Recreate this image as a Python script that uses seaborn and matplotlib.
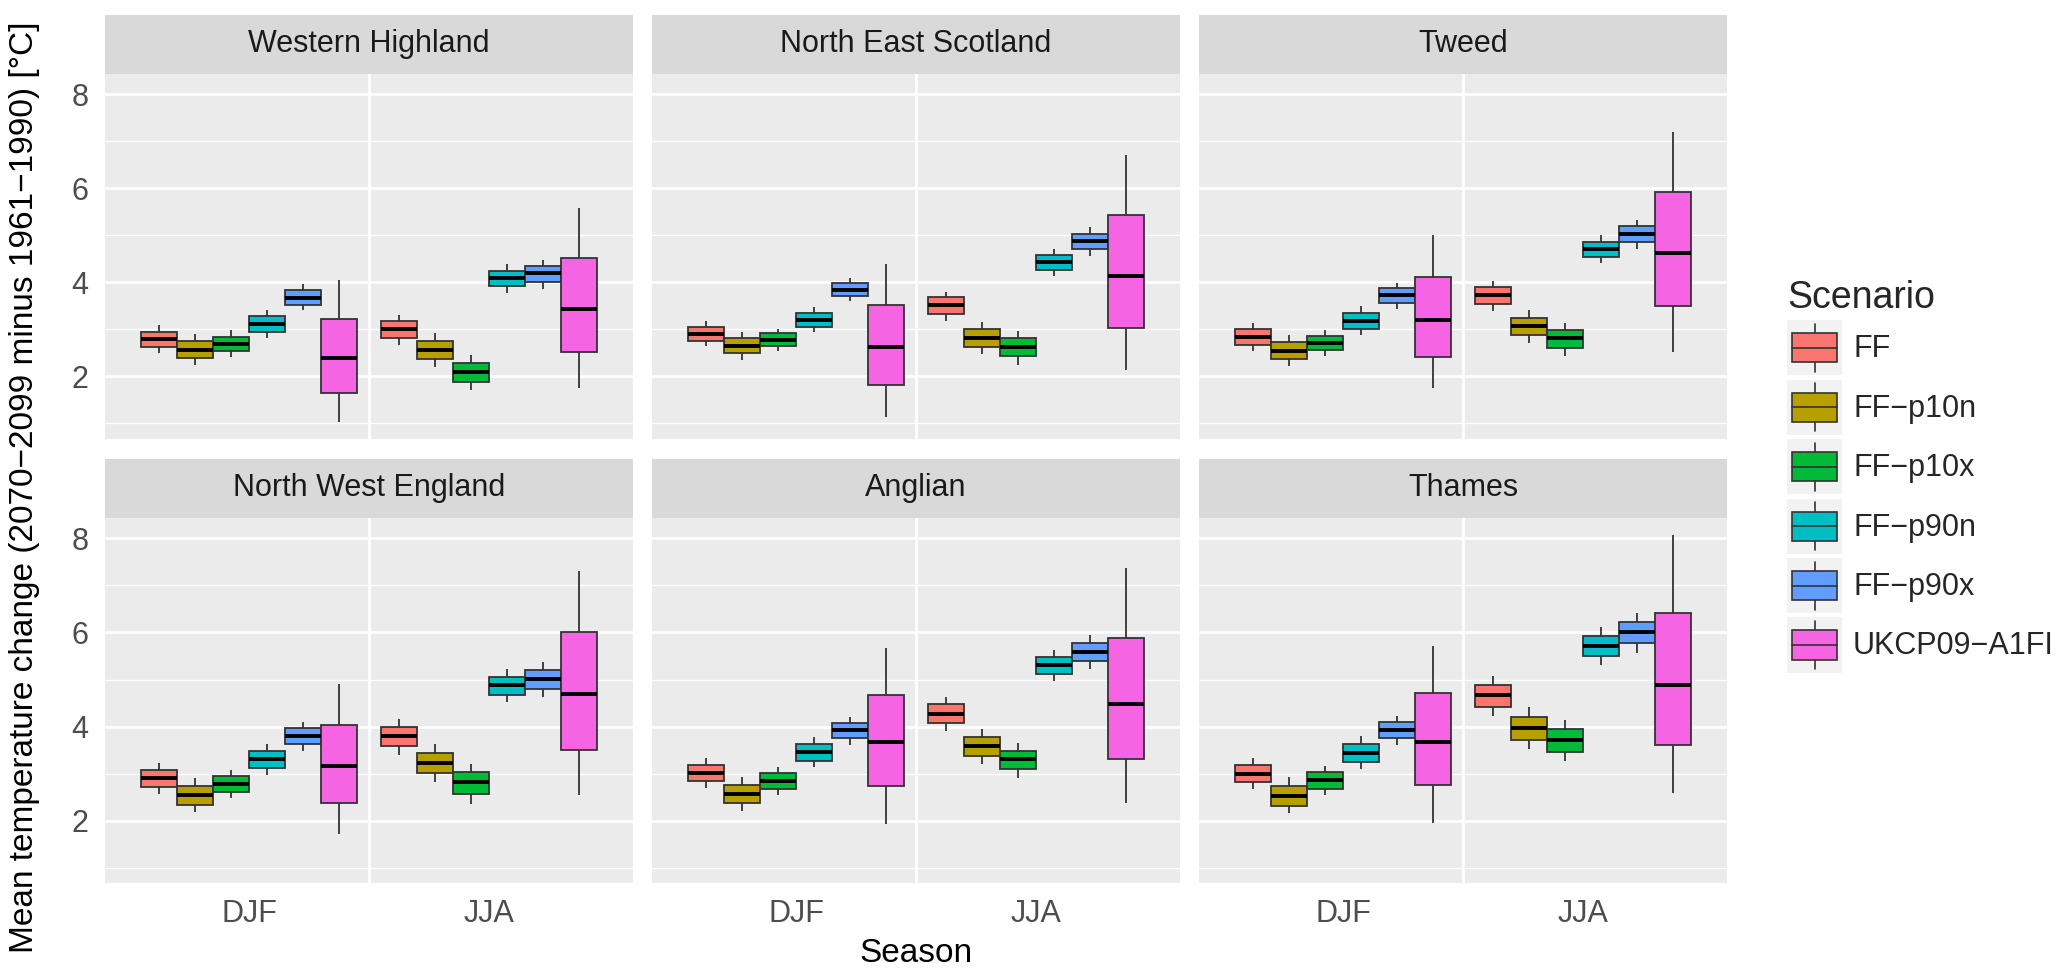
import numpy as np
import pandas as pd
import seaborn as sns
import matplotlib.pyplot as plt
from matplotlib.patches import Patch, Rectangle
from matplotlib.lines import Line2D
from matplotlib.legend_handler import HandlerBase
from matplotlib.ticker import MultipleLocator, FixedLocator

# categories
regions = ["Western Highland", "North East Scotland", "Tweed",
           "North West England", "Anglian", "Thames"]
seasons = ["DJF", "JJA"]
scenarios = ["FF", "FF\u2212p10n", "FF\u2212p10x", "FF\u2212p90n", "FF\u2212p90x", "UKCP09\u2212A1FI"]
colors = ["#F8766D", "#B79F00", "#00BA38", "#00BFC4", "#619CFF", "#F564E3"]

# box statistics, one row per region: DJF six scenarios, then JJA six scenarios
whisk_lo = [
    [2.49, 2.24, 2.42, 2.81, 3.41, 1.03,  2.67, 2.21, 1.72, 3.78, 3.87, 1.76],
    [2.64, 2.35, 2.54, 2.94, 3.60, 1.14,  3.17, 2.47, 2.25, 4.13, 4.56, 2.13],
    [2.54, 2.22, 2.44, 2.89, 3.44, 1.76,  3.39, 2.72, 2.43, 4.41, 4.71, 2.52],
    [2.57, 2.18, 2.47, 2.96, 3.49, 1.72,  3.39, 2.82, 2.35, 4.53, 4.62, 2.55],
    [2.69, 2.21, 2.55, 3.13, 3.61, 1.92,  3.90, 3.20, 2.91, 4.96, 5.23, 2.38],
    [2.67, 2.16, 2.54, 3.10, 3.60, 1.94,  4.22, 3.53, 3.26, 5.31, 5.57, 2.59],
]
q1 = [
    [2.62, 2.40, 2.54, 2.94, 3.52, 1.65,  2.82, 2.37, 1.89, 3.92, 4.01, 2.53],
    [2.75, 2.50, 2.64, 3.05, 3.71, 1.82,  3.33, 2.62, 2.43, 4.26, 4.72, 3.03],
    [2.67, 2.37, 2.56, 3.02, 3.57, 2.42,  3.55, 2.88, 2.61, 4.55, 4.86, 3.49],
    [2.71, 2.34, 2.61, 3.12, 3.63, 2.38,  3.59, 3.01, 2.57, 4.68, 4.80, 3.51],
    [2.84, 2.37, 2.68, 3.27, 3.76, 2.74,  4.07, 3.37, 3.09, 5.11, 5.40, 3.30],
    [2.82, 2.32, 2.68, 3.25, 3.75, 2.76,  4.42, 3.71, 3.46, 5.50, 5.77, 3.61],
]
median = [
    [2.79, 2.57, 2.69, 3.11, 3.67, 2.40,  3.00, 2.57, 2.10, 4.09, 4.20, 3.44],
    [2.91, 2.65, 2.78, 3.21, 3.84, 2.62,  3.51, 2.81, 2.63, 4.43, 4.88, 4.13],
    [2.84, 2.55, 2.71, 3.19, 3.73, 3.21,  3.73, 3.07, 2.81, 4.71, 5.02, 4.63],
    [2.90, 2.54, 2.78, 3.31, 3.80, 3.16,  3.79, 3.23, 2.81, 4.88, 5.01, 4.69],
    [3.02, 2.56, 2.85, 3.46, 3.92, 3.67,  4.27, 3.59, 3.30, 5.31, 5.59, 4.48],
    [3.00, 2.53, 2.86, 3.44, 3.92, 3.68,  4.66, 3.96, 3.71, 5.72, 6.00, 4.89],
]
q3 = [
    [2.95, 2.76, 2.84, 3.28, 3.83, 3.22,  3.17, 2.75, 2.29, 4.24, 4.35, 4.52],
    [3.05, 2.81, 2.92, 3.36, 3.98, 3.52,  3.68, 3.00, 2.81, 4.58, 5.04, 5.43],
    [3.00, 2.74, 2.86, 3.35, 3.88, 4.12,  3.90, 3.25, 2.98, 4.87, 5.19, 5.93],
    [3.07, 2.74, 2.94, 3.49, 3.96, 4.04,  3.99, 3.44, 3.03, 5.06, 5.21, 6.01],
    [3.18, 2.76, 3.01, 3.62, 4.08, 4.68,  4.47, 3.78, 3.49, 5.47, 5.78, 5.88],
    [3.18, 2.74, 3.03, 3.63, 4.09, 4.71,  4.89, 4.20, 3.95, 5.93, 6.22, 6.42],
]
whisk_hi = [
    [3.09, 2.90, 2.98, 3.42, 3.96, 4.05,  3.30, 2.92, 2.45, 4.39, 4.48, 5.58],
    [3.17, 2.95, 3.02, 3.48, 4.09, 4.39,  3.80, 3.16, 2.96, 4.72, 5.17, 6.71],
    [3.13, 2.88, 2.98, 3.49, 3.99, 5.01,  4.04, 3.42, 3.14, 5.01, 5.33, 7.21],
    [3.22, 2.91, 3.08, 3.63, 4.09, 4.90,  4.17, 3.63, 3.21, 5.23, 5.38, 7.31],
    [3.32, 2.93, 3.14, 3.77, 4.21, 5.68,  4.63, 3.95, 3.66, 5.63, 5.95, 7.37],
    [3.33, 2.92, 3.17, 3.79, 4.23, 5.72,  5.08, 4.41, 4.14, 6.11, 6.42, 8.08],
]

# five values per box -> seaborn gives back exactly min, q1, median, q3, max
rows = []
for r, region in enumerate(regions):
    for s, season in enumerate(seasons):
        for k, scen in enumerate(scenarios):
            i = s * len(scenarios) + k
            for v in (whisk_lo[r][i], q1[r][i], median[r][i], q3[r][i], whisk_hi[r][i]):
                rows.append((region, season, scen, v))
df = pd.DataFrame(rows, columns=["Region", "Season", "Scenario", "value"])

sns.set_theme(style="darkgrid")
plt.rcParams["font.family"] = ["Liberation Sans", "DejaVu Sans"]

g = sns.catplot(data=df, x="Season", y="value", hue="Scenario", col="Region",
                col_wrap=3, kind="box", order=seasons, hue_order=scenarios,
                col_order=regions, palette=colors, saturation=1, width=0.9,
                whis=np.inf, showcaps=False, linecolor="#333333", linewidth=1.3,
                medianprops={"color": "black", "linewidth": 2.8},
                legend=False, height=4, aspect=1.4, sharey=True)
fig = g.figure
fig.set_size_inches(20.67, 9.74)
fig.set_facecolor("white")
fig.subplots_adjust(left=0.0508, right=0.8355, bottom=0.0937, top=0.924,
                    wspace=0.036, hspace=0.218)
g.set_titles("")
g.set_axis_labels("", "")

lo_all = np.min(whisk_lo)
hi_all = np.max(whisk_hi)
pad = 0.05 * (hi_all - lo_all)
strip_h = 0.1626

for i, ax in enumerate(g.axes.flat):
    ax.set_facecolor("#EBEBEB")
    ax.set_xlim(-0.6, 1.6)
    ax.set_ylim(lo_all - pad, hi_all + pad)
    ax.yaxis.set_major_locator(MultipleLocator(2))
    ax.yaxis.set_minor_locator(MultipleLocator(1))
    ax.xaxis.set_minor_locator(FixedLocator([0.5]))
    ax.grid(False)
    ax.yaxis.grid(True, which="major", color="white", linewidth=2.0)
    ax.yaxis.grid(True, which="minor", color="white", linewidth=1.0)
    ax.xaxis.grid(True, which="minor", color="white", linewidth=2.0)
    ax.set_axisbelow(True)
    for sp in ax.spines.values():
        sp.set_visible(False)
    ax.tick_params(which="major", length=7, width=1.8, color="#333333",
                   labelsize=22, labelcolor="#4D4D4D", pad=5)
    ax.tick_params(which="minor", length=0)
    if i % 3 != 0:
        ax.tick_params(axis="y", which="major", length=0)
    if i < 3:
        ax.tick_params(axis="x", which="major", length=0)
    # strip on top of each panel
    ax.add_patch(Rectangle((0, 1), 1, strip_h, transform=ax.transAxes,
                           facecolor="#D9D9D9", edgecolor="none", clip_on=False))
    ax.text(0.5, 1 + strip_h / 2, regions[i], transform=ax.transAxes,
            ha="center", va="center", fontsize=22, color="#1A1A1A")


class BoxKey(HandlerBase):
    def create_artists(self, legend, orig_handle, xdescent, ydescent,
                       width, height, fontsize, trans):
        x0, y0 = -xdescent, -ydescent
        cx, cy = x0 + width / 2, y0 + height / 2
        bg = Rectangle((x0, y0), width, height, facecolor="#F2F2F2",
                       edgecolor="none", transform=trans)
        wh = Line2D([cx, cx], [y0 + 0.065 * height, y0 + 0.935 * height],
                    color="#333333", linewidth=1.2, transform=trans)
        bw, bh = 0.82 * width, 0.53 * height
        box = Rectangle((cx - bw / 2, cy - bh / 2), bw, bh,
                        facecolor=orig_handle.get_facecolor(),
                        edgecolor="#333333", linewidth=1.2, transform=trans)
        med = Line2D([cx - bw / 2, cx + bw / 2], [cy, cy], color="#333333",
                     linewidth=1.2, transform=trans)
        return [bg, wh, box, med]


handles = [Patch(facecolor=c) for c in colors]
fig.legend(handles, scenarios, handler_map={Patch: BoxKey()},
           loc="upper left", bbox_to_anchor=(1787 / 2067, 1 - 280 / 974),
           frameon=False, title="Scenario", fontsize=22, title_fontsize=27,
           handlelength=1.8, handleheight=2.4, labelspacing=0.14,
           handletextpad=0.36, borderpad=0, borderaxespad=0, alignment="left")

fig.text(916 / 2067, 1 - 954 / 974, "Season", ha="center", va="center",
         fontsize=24, color="black")
fig.text(25 / 2067, 0.5, "Mean temperature change (2070\u22122099 minus 1961\u22121990) [\u00b0C]",
         ha="center", va="center", rotation=90, fontsize=24, color="black")

plt.savefig("out.png", dpi=100)
